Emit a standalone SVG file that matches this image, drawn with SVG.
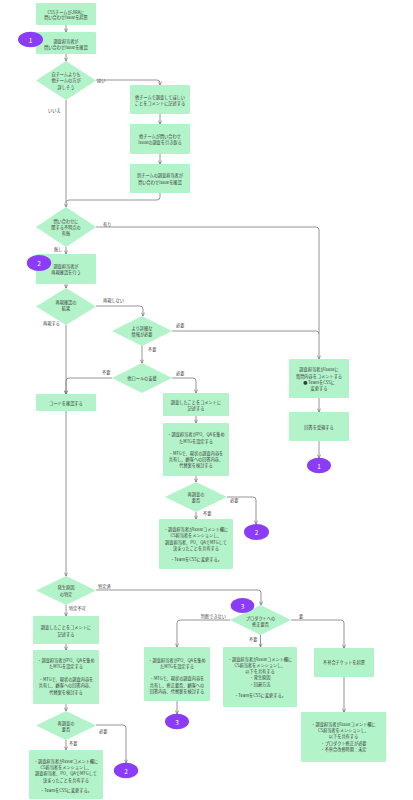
<svg xmlns="http://www.w3.org/2000/svg" width="413" height="800" viewBox="0 0 413 800">
<defs>
<marker id="arr" viewBox="0 0 6 6" refX="5.5" refY="3" markerWidth="4" markerHeight="4" markerUnits="userSpaceOnUse" orient="auto">
<path d="M0.5,0.6 L5.5,3 L0.5,5.4" fill="none" stroke="#6e6e6e" stroke-width="1"/>
</marker>
</defs>
<style>
.b{fill:#b3f3c9;}
.d{fill:#b3f3c9;}
.c{fill:#8b3cf7;}
text{font-family:"Noto Sans CJK JP","Noto Sans",sans-serif;font-size:4.2px;fill:#3a3a3a;text-anchor:middle;dominant-baseline:central;}
.ct{fill:#ffffff;font-size:6.5px;}
.lb{text-anchor:start;}
.le{text-anchor:end;}
#connectors path{fill:none;stroke:#8a8a8a;stroke-width:0.9;}
.a{marker-end:url(#arr);}
</style>
<rect width="413" height="800" fill="#ffffff"/>

<g id="connectors">
<path class="a" d="M66,25 V32"/>
<path class="a" d="M66,54 V61"/>
<path class="a" d="M96,80 H157 Q160,80 160,83 V85"/>
<path class="a" d="M160,114 V124"/>
<path class="a" d="M160,154 V164"/>
<path d="M160,193 V197 Q160,200 157,200 H69 Q66,200 66,203"/>
<path class="a" d="M66,100 V207"/>
<path class="a" d="M96,227 H316 Q319,227 319,230 V359"/>
<path class="a" d="M66,247 V254"/>
<path class="a" d="M66,284 V288"/>
<path class="a" d="M96,306 H140 Q143,306 143,309 V316"/>
<path class="a" d="M66,325 V394"/>
<path d="M172,331 H316 Q319,331 319,334"/>
<path class="a" d="M142,345 V363"/>
<path class="a" d="M112,378 H69 Q66,378 66,381 V394"/>
<path class="a" d="M172,378 H193 Q196,378 196,381 V393"/>
<path class="a" d="M196,416 V423"/>
<path class="a" d="M196,476 V482"/>
<path class="a" d="M227,497 H253 Q256,497 256,500 V524"/>
<path class="a" d="M196,512 V519"/>
<path class="a" d="M319,398 V412"/>
<path class="a" d="M319,441 V458"/>
<path class="a" d="M66,411 V576"/>
<path class="a" d="M96,590 H258 Q261,590 261,593 V605"/>
<path class="a" d="M66,605 V616"/>
<path class="a" d="M66,644 V650"/>
<path class="a" d="M66,704 V711"/>
<path class="a" d="M96,725 H123 Q126,725 126,728 V763"/>
<path class="a" d="M66,740 V750"/>
<path class="a" d="M230,620 H180 Q177,620 177,623 V647"/>
<path class="a" d="M291,620 H341 Q344,620 344,623 V648"/>
<path class="a" d="M260.5,635 V647"/>
<path class="a" d="M177,701 V714"/>
<path class="a" d="M344,677 V712"/>
<text class="lb" x="97" y="79.5">はい</text>
<text class="lb" x="48" y="109.5">いいえ</text>
<text class="lb" x="103" y="224">有り</text>
<text class="lb" x="54" y="249">無し</text>
<text class="lb" x="103" y="299.5">再現しない</text>
<text class="lb" x="43" y="323">再現する</text>
<text class="lb" x="176" y="325">必要</text>
<text class="lb" x="148" y="349">不要</text>
<text class="lb" x="102" y="372">不要</text>
<text class="lb" x="176" y="373">必要</text>
<text class="lb" x="230" y="500">必要</text>
<text class="lb" x="203" y="513">不要</text>
<text class="lb" x="98" y="585.5">特定済</text>
<text class="lb" x="69" y="608">特定不可</text>
<text class="lb" x="99" y="731">必要</text>
<text class="lb" x="69" y="743">不要</text>
<text class="le" x="226" y="615.5">判断できない</text>
<text class="lb" x="299" y="615.5">要</text>
<text class="lb" x="249" y="638.5">不要</text>
</g>

<g id="n1"><rect class="b" x="36" y="3" width="60" height="22" rx="1"/>
<text x="66" y="11.5">CSSチームがJIRAに</text><text x="66" y="16.8">問い合わせIssueを起票</text></g>

<g id="n2"><rect class="b" x="36" y="32" width="60" height="22" rx="1"/>
<text x="66" y="41">調査担当者が</text><text x="66" y="46.5">問い合わせIssueを確認</text></g>
<g id="c1a"><ellipse class="c" cx="30.5" cy="39.5" rx="12.5" ry="7.8"/><text class="ct" x="30.5" y="39.5">1</text></g>

<g id="d1"><polygon class="d" points="66,61 96,80.5 66,100 36,80.5"/>
<text x="66" y="74">自チームよりも</text><text x="66" y="80.3">他チームの方が</text><text x="66" y="86.6">詳しそう</text></g>

<g id="n4"><rect class="b" x="130" y="85" width="60" height="29" rx="1"/>
<text x="160" y="96.7">他チームで調査してほしい</text><text x="160" y="103">ことをコメントに記述する</text></g>
<g id="n5"><rect class="b" x="130" y="124" width="60" height="30" rx="1"/>
<text x="160" y="136">他チームが問い合わせ</text><text x="160" y="142.3">Issueの調査を引き取る</text></g>
<g id="n6"><rect class="b" x="130" y="164" width="60" height="29" rx="1"/>
<text x="160" y="175.3">別チームの調査担当者が</text><text x="160" y="182">問い合わせIssueを確認</text></g>

<g id="d2"><polygon class="d" points="66,207 96,227 66,247 36,227"/>
<text x="66" y="220.7">問い合わせに</text><text x="66" y="227">関する不明点の</text><text x="66" y="233.3">有無</text></g>

<g id="n8"><rect class="b" x="36" y="254" width="60" height="30" rx="1"/>
<text x="66" y="266">調査担当者が</text><text x="66" y="272.3">再現確認を行う</text></g>
<g id="c2a"><ellipse class="c" cx="39" cy="263" rx="12.2" ry="8"/><text class="ct" x="39" y="263">2</text></g>

<g id="d3"><polygon class="d" points="66,288 96,306.5 66,325 36,306.5"/>
<text x="66" y="302.3">再現確認の</text><text x="66" y="308.3">結果</text></g>

<g id="d4"><polygon class="d" points="142,316 172,331 142,346 112,331"/>
<text x="142" y="328">より詳細な</text><text x="142" y="333.5">情報が必要</text></g>

<g id="d5"><polygon class="d" points="142,363 172,378 142,393 112,378"/>
<text x="142" y="378.3">他ロールの支援</text></g>

<g id="n12"><rect class="b" x="36" y="394" width="60" height="17" rx="1"/>
<text x="66" y="402.7">コードを確認する</text></g>

<g id="n13"><rect class="b" x="163" y="393" width="66" height="23" rx="1"/>
<text x="196" y="401.7">調査したことをコメントに</text><text x="196" y="408">記述する</text></g>

<g id="n14"><rect class="b" x="163" y="423" width="66" height="53" rx="1"/>
<text x="196" y="434.3">・調査担当者がPO、QAを集め</text><text x="196" y="440.5">たMTGを設定する</text>
<text x="196" y="452.5">・MTGで、現状の調査内容を</text><text x="196" y="458.7">共有し、顧客への回答内容、</text><text x="196" y="465">代替案を検討する</text></g>

<g id="d15"><polygon class="d" points="196,482 227,497 196,512 165,497"/>
<text x="196" y="494">再調査の</text><text x="196" y="500">要否</text></g>

<g id="c2b"><ellipse class="c" cx="256.5" cy="532" rx="12.5" ry="8"/><text class="ct" x="256.5" y="532">2</text></g>

<g id="n17"><rect class="b" x="159" y="519" width="74" height="50" rx="1"/>
<text x="196" y="529">・調査担当者がIssueコメント欄に</text><text x="196" y="535.3">CS担当者をメンションし、</text>
<text x="196" y="541.6">調査担当者、PO、QAでMTGして</text><text x="196" y="548">決まったことを共有する</text>
<text x="196" y="558.5">・TeamをCSSに変更する。</text></g>

<g id="n18"><rect class="b" x="289" y="359" width="60" height="39" rx="1"/>
<text x="319" y="369.3">調査担当者がIssueに</text><text x="319" y="375.6">質問内容をコメントする</text>
<text x="319" y="382">● TeamをCSSに</text><text x="319" y="388.3">変更する</text></g>

<g id="n19"><rect class="b" x="289" y="412" width="60" height="29" rx="1"/>
<text x="319" y="427">回答を受領する</text></g>

<g id="c1b"><ellipse class="c" cx="319" cy="465.5" rx="12" ry="7.8"/><text class="ct" x="319" y="465.5">1</text></g>

<g id="d21"><polygon class="d" points="66,576 96,590.5 66,605 36,590.5"/>
<text x="66" y="587">発生原因</text><text x="66" y="594">の特定</text></g>

<g id="n22"><rect class="b" x="33" y="616" width="66" height="28" rx="1"/>
<text x="66" y="627.3">調査したことをコメントに</text><text x="66" y="633.5">記述する</text></g>

<g id="n23"><rect class="b" x="33" y="650" width="66" height="54" rx="1"/>
<text x="66" y="660">・調査担当者がPO、QAを集め</text><text x="66" y="666.3">たMTGを設定する</text>
<text x="66" y="679">・MTGで、現状の調査内容を</text><text x="66" y="685.3">共有し、顧客への回答内容、</text><text x="66" y="691.6">代替案を検討する</text></g>

<g id="d24"><polygon class="d" points="66,711 96,725.5 66,740 36,725.5"/>
<text x="66" y="722.7">再調査の</text><text x="66" y="729">要否</text></g>

<g id="c2c"><ellipse class="c" cx="126" cy="770.5" rx="12.2" ry="7.8"/><text class="ct" x="126" y="770.5">2</text></g>

<g id="n26"><rect class="b" x="29" y="750" width="74" height="49" rx="1"/>
<text x="66" y="760.7">・調査担当者がIssueコメント欄に</text><text x="66" y="767">CS担当者をメンションし、</text>
<text x="66" y="773.3">調査担当者、PO、QAでMTGして</text><text x="66" y="779.6">決まったことを共有する</text>
<text x="66" y="790.3">・TeamをCSSに変更する。</text></g>

<g id="d27"><polygon class="d" points="260.5,605 291,620 260.5,635 230,620"/>
<text x="260.5" y="617.7">プロダクトへの</text><text x="260.5" y="624">修正要否</text></g>
<g id="c3a"><ellipse class="c" cx="242.5" cy="605.5" rx="11.8" ry="7.6"/><text class="ct" x="242.5" y="605.5">3</text></g>

<g id="n29"><rect class="b" x="144" y="647" width="66" height="54" rx="1"/>
<text x="177" y="659.7">・調査担当者がPO、QAを集め</text><text x="177" y="666">たMTGを設定する</text>
<text x="177" y="678.3">・MTGで、現状の調査内容を</text><text x="177" y="684.6">共有し、修正要否、顧客への</text><text x="177" y="691">回答内容、代替案を検討する</text></g>

<g id="c3b"><ellipse class="c" cx="177" cy="721.5" rx="12" ry="7.8"/><text class="ct" x="177" y="721.5">3</text></g>

<g id="n31"><rect class="b" x="223" y="647" width="74" height="60" rx="1"/>
<text x="260" y="659.3">・調査担当者がIssueコメント欄に</text><text x="260" y="665.3">CS担当者をメンションし、</text>
<text x="260" y="671.3">以下を共有する</text><text x="260" y="677.3">・発生原因</text><text x="260" y="683.5">・回避方法</text>
<text x="260" y="695.3">・TeamをCSSに変更する。</text></g>

<g id="n32"><rect class="b" x="314" y="648" width="60" height="29" rx="1"/>
<text x="344" y="661.7">不具合チケットを起票</text></g>

<g id="n33"><rect class="b" x="301" y="712" width="85" height="50" rx="1"/>
<text x="343.5" y="724.3">・調査担当者がIssueコメント欄に</text><text x="343.5" y="730.3">CS担当者をメンションし、</text>
<text x="343.5" y="736.3">以下を共有する</text><text x="343.5" y="742.5">・プロダクト修正が必要</text><text x="343.5" y="748.7">・不具合改修時期：未定</text></g>
</svg>
